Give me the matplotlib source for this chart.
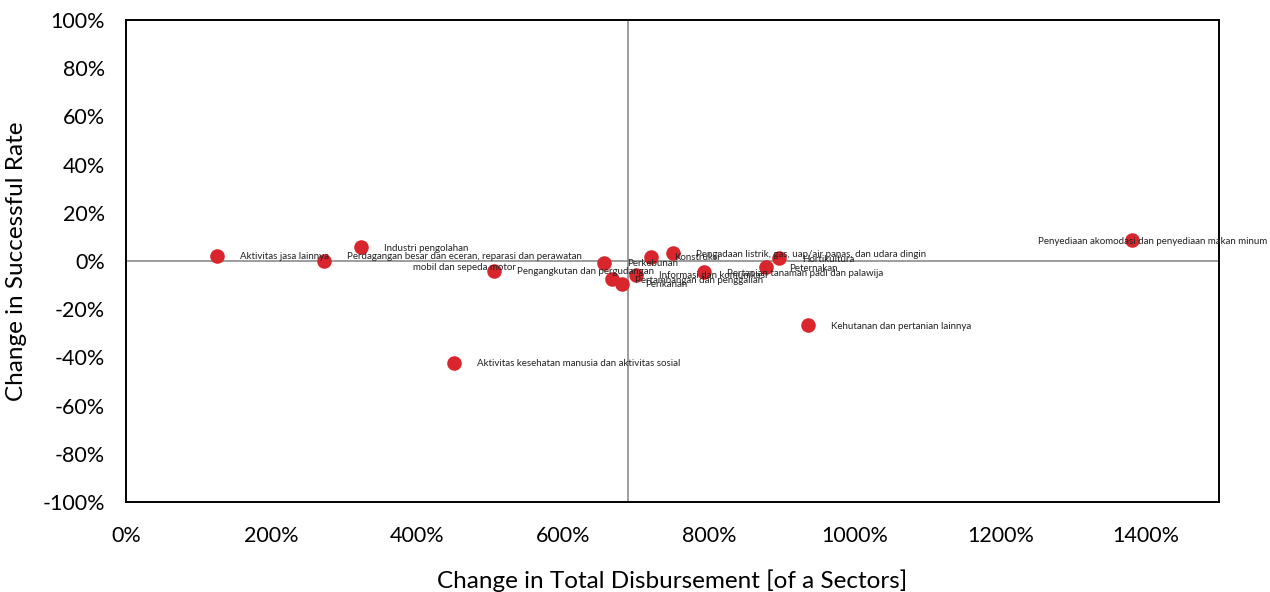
import numpy as np
import matplotlib
matplotlib.use("Agg")
import matplotlib.pyplot as plt
from matplotlib.ticker import FuncFormatter

plt.rcParams['font.family'] = ['Lato', 'DejaVu Sans']

# data: change in disbursement (%) vs change in success rate (%)
sectors = [
    "Aktivitas jasa lainnya",
    "Perdagangan besar dan eceran, reparasi dan perawatan\nmobil dan sepeda motor",
    "Industri pengolahan",
    "Aktivitas kesehatan manusia dan aktivitas sosial",
    "Pengangkutan dan pergudangan",
    "Perkebunan",
    "Pertambangan dan penggalian",
    "Perikanan",
    "Informasi dan komunikasi",
    "Konstruksi",
    "Pengadaan listrik, gas, uap/air panas, dan udara dingin",
    "Pertanian tanaman padi dan palawija",
    "Peternakan",
    "Hortikultura",
    "Kehutanan dan pertanian lainnya",
    "Penyediaan akomodasi dan penyediaan makan minum",
]
disb_change = [125, 272, 323, 450, 505, 656, 667, 681, 700, 721, 751, 793, 879, 896, 936, 1380]
rate_change = [2.1, 0.0, 5.8, -42.3, -4.1, -0.8, -7.5, -9.5, -5.8, 1.7, 3.3, -4.6, -2.5, 1.2, -26.6, 8.7]
ref_x = 689

fig = plt.figure(figsize=(12.7, 5.92), dpi=100)
ax = fig.add_axes([0.0992, 0.152, 0.8606, 0.8142])

ax.axhline(0, color="#8c8c8c", lw=1.2, zorder=1)
ax.axvline(ref_x, color="#8c8c8c", lw=1.2, zorder=1)
ax.scatter(disb_change, rate_change, s=110, color="#d9262c", zorder=3, linewidths=0)

for name, x, y in zip(sectors, disb_change, rate_change):
    dx = 23
    if name.startswith("Penyediaan"):
        dx = -94
    ax.annotate(name, (x, y), xytext=(dx, -1), textcoords="offset pixels",
                fontsize=7, color="#222222", ha="left", va="center",
                multialignment="center", annotation_clip=False, zorder=4)

ax.set_xlim(0, 1500)
ax.set_ylim(-100, 100)
ax.set_xticks(np.arange(0, 1401, 200))
ax.set_yticks(np.arange(-100, 101, 20))
ax.xaxis.set_major_formatter(FuncFormatter(lambda v, p: f"{v:.0f}%"))
ax.yaxis.set_major_formatter(FuncFormatter(lambda v, p: f"{v:.0f}%"))
ax.tick_params(length=0, labelsize=15.5, pad=15)
ax.tick_params(axis="x", pad=17)
for s in ax.spines.values():
    s.set_linewidth(1.4)

ax.set_xlabel("Change in Total Disbursement [of a Sectors]", fontsize=17.5, labelpad=17)
ax.set_ylabel("Change in Successful Rate", fontsize=17.5, labelpad=11)

fig.savefig("out.png", dpi=100)
